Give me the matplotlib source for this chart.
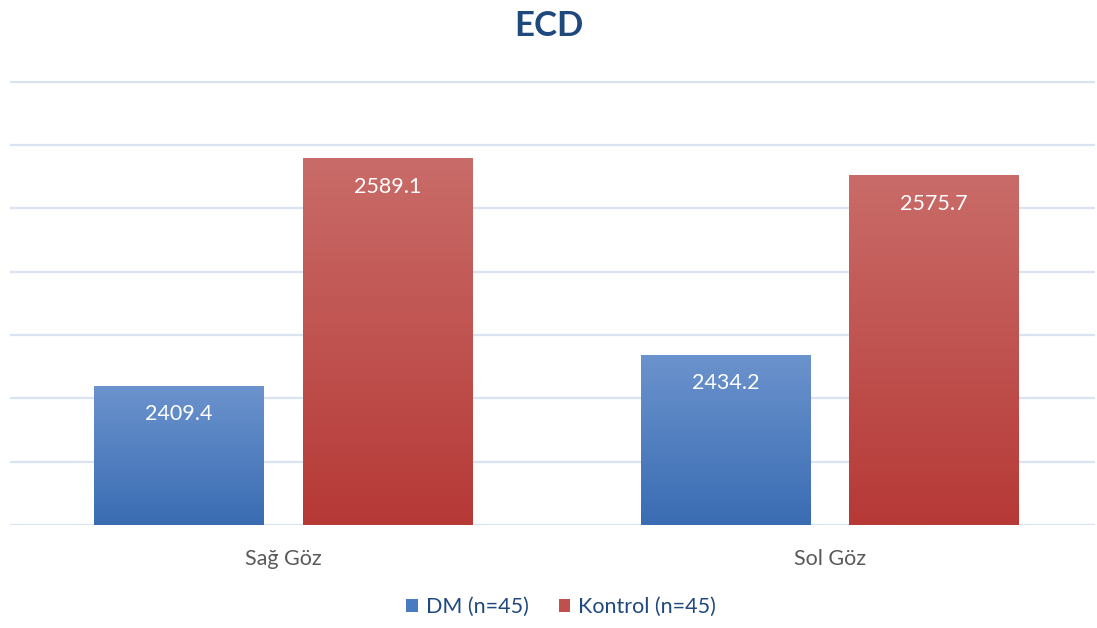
import matplotlib.pyplot as plt
import numpy as np
from matplotlib.colors import LinearSegmentedColormap
from matplotlib.patches import Patch

plt.rcParams['font.family'] = ['Lato', 'DejaVu Sans']

categories = ['Sağ Göz', 'Sol Göz']
series = ['DM (n=45)', 'Kontrol (n=45)']
dm = [2409.4, 2434.2]
kontrol = [2589.1, 2575.7]
ymin, ymax = 2300, 2650

# top -> bottom gradient colours
grad = {
    'DM (n=45)': ('#6B93CD', '#3A6CB3'),
    'Kontrol (n=45)': ('#C96C69', '#B63936'),
}
legend_col = {'DM (n=45)': '#4A7BC0', 'Kontrol (n=45)': '#C0504D'}

fig = plt.figure(figsize=(10.97, 6.28), dpi=100)
ax = fig.add_axes([10/1097, 103/628, 1085/1097, 444/628])

for y in range(ymin, ymax + 1, 50):
    ax.axhline(y, color='#D9E3F2', lw=1.6, zorder=0)

w = 0.311
off = 0.191
x = np.arange(len(categories))
grad_img = np.linspace(0, 1, 256).reshape(-1, 1)
for name, vals, dx in [(series[0], dm, -off), (series[1], kontrol, off)]:
    cmap = LinearSegmentedColormap.from_list(name, [grad[name][1], grad[name][0]])
    for xi, v in zip(x, vals):
        x0 = xi + dx - w / 2
        ax.imshow(grad_img, cmap=cmap, extent=(x0, x0 + w, ymin, v),
                  origin='lower', aspect='auto', zorder=2)
        ax.text(xi + dx, v - 22, f'{v:.1f}', ha='center', va='center',
                color='white', fontsize=15.5, zorder=3)

ax.set_xlim(-0.5, 1.485)
ax.set_ylim(ymin, ymax + 0.5)
for s in ax.spines.values():
    s.set_visible(False)
ax.set_yticks([])
ax.set_xticks(x)
ax.set_xticklabels(categories, fontsize=15.5, color='#595959')
ax.tick_params(axis='x', length=0, pad=17)

fig.text(0.5, 1 - 26/628, 'ECD', ha='center', va='center', fontsize=25,
         fontweight='bold', color='#1F497D')

handles = [Patch(facecolor=legend_col[s], label=s) for s in series]
fig.legend(handles=handles, loc='center', bbox_to_anchor=(561/1097, 1 - 607/628),
           ncol=2, frameon=False, fontsize=15.5, handlelength=0.55,
           handleheight=0.55, handletextpad=0.35, columnspacing=1.4,
           labelcolor='#1F497D')

fig.savefig('out.png', dpi=100)
